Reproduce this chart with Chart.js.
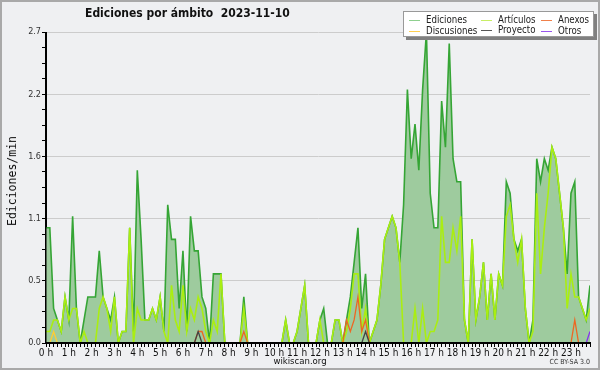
<!DOCTYPE html>
<html>
<head>
<meta charset="utf-8">
<script src="https://cdn.jsdelivr.net/npm/chart.js@4/dist/chart.umd.min.js"></script>
<style>
  body { margin: 0; background: #fff; }
  #marco { position: relative; width: 600px; height: 370px; background: #eff0f2; overflow: hidden;
           font-family: "DejaVu Sans Condensed", "DejaVu Sans", sans-serif; color: #111; }
  #marco canvas { position: absolute; left: 0; top: 0; }
  #borde { position: absolute; left: 0; top: 0; width: 600px; height: 370px; box-sizing: border-box;
           border: 2px solid #a9a9a9; pointer-events: none; }
  #titulo { position: absolute; left: 85px; top: 6px; font-weight: bold; font-size: 12px; white-space: pre; }
  #ytitulo { position: absolute; left: 12px; top: 181px; font-family: "DejaVu Sans Mono", monospace; font-size: 11.5px;
             transform: translate(-50%, -50%) rotate(-90deg); white-space: nowrap; }
  #leyenda { position: absolute; left: 403px; top: 11px; width: 189px; height: 24px; background: #fff;
             border: 1px solid #999; box-shadow: 3px 3px 0 #808080; }
  .item { position: absolute; font-size: 9.6px; line-height: 11px; white-space: nowrap; color: #222; }
  .item i { display: inline-block; width: 11px; height: 0; border-top: 1px solid; vertical-align: middle; margin-right: 6px; }
  #pie { position: absolute; left: 0; width: 600px; top: 355px; text-align: center; font-size: 9.5px; }
  #cc { position: absolute; right: 10px; top: 358px; font-size: 7px; color: #333; }
</style>
</head>
<body>
<div id="marco">
  <canvas id="grafico" width="600" height="370"></canvas>
  <div id="titulo">Ediciones por ámbito  2023-11-10</div>
  <div id="ytitulo">Ediciones/min</div>
  <div id="leyenda"></div>
  <div id="pie">wikiscan.org</div>
  <div id="cc">CC BY-SA 3.0</div>
  <div id="borde"></div>
</div>
<script>
// valores cada 10 minutos (ediciones/min), una fila por hora
const ediciones = [
  1.0, 1.0, 0.3, 0.2, 0.1, 0.4,
  0.2, 1.1, 0.3, 0.0, 0.2, 0.4,
  0.4, 0.4, 0.8, 0.4, 0.3, 0.2,
  0.4, 0.0, 0.1, 0.1, 1.0, 0.1,
  1.5, 0.9, 0.2, 0.2, 0.3, 0.2,
  0.4, 0.1, 1.2, 0.9, 0.9, 0.3,
  0.8, 0.1, 1.1, 0.8, 0.8, 0.4,
  0.3, 0.0, 0.6, 0.6, 0.6, 0.0,
  0.0, 0.0, 0.0, 0.0, 0.4, 0.0,
  0.0, 0.0, 0.0, 0.0, 0.0, 0.0,
  0.0, 0.0, 0.0, 0.2, 0.0, 0.0,
  0.1, 0.3, 0.5, 0.0, 0.0, 0.0,
  0.2, 0.3, 0.0, 0.0, 0.2, 0.2,
  0.0, 0.2, 0.4, 0.7, 1.0, 0.3,
  0.6, 0.0, 0.1, 0.2, 0.5, 0.9,
  1.0, 1.1, 1.0, 0.7, 1.2, 2.2,
  1.6, 1.9, 1.5, 2.2, 2.7, 1.3,
  1.0, 1.0, 2.1, 1.7, 2.6, 1.6,
  1.4, 1.4, 0.2, 0.0, 0.9, 0.2,
  0.4, 0.7, 0.2, 0.6, 0.2, 0.6,
  0.5, 1.4, 1.3, 0.9, 0.8, 0.9,
  0.3, 0.0, 0.2, 1.6, 1.4, 1.6,
  1.5, 1.7, 1.6, 1.3, 1.0, 0.6,
  1.3, 1.4, 0.4, 0.3, 0.2, 0.5
];
const articulos = [
  0.1, 0.1, 0.2, 0.2, 0.1, 0.4,
  0.2, 0.3, 0.3, 0.0, 0.1, 0.0,
  0.0, 0.0, 0.3, 0.4, 0.3, 0.1,
  0.4, 0.0, 0.1, 0.1, 1.0, 0.0,
  0.3, 0.2, 0.2, 0.2, 0.3, 0.2,
  0.4, 0.1, 0.0, 0.5, 0.2, 0.1,
  0.5, 0.1, 0.3, 0.2, 0.4, 0.3,
  0.1, 0.0, 0.2, 0.1, 0.6, 0.0,
  0.0, 0.0, 0.0, 0.0, 0.3, 0.0,
  0.0, 0.0, 0.0, 0.0, 0.0, 0.0,
  0.0, 0.0, 0.0, 0.2, 0.0, 0.0,
  0.1, 0.3, 0.5, 0.0, 0.0, 0.0,
  0.2, 0.0, 0.0, 0.0, 0.2, 0.2,
  0.0, 0.1, 0.3, 0.6, 0.6, 0.1,
  0.3, 0.0, 0.1, 0.2, 0.5, 0.9,
  1.0, 1.1, 1.0, 0.7, 0.0, 0.0,
  0.0, 0.3, 0.0, 0.3, 0.0, 0.1,
  0.1, 0.2, 1.1, 0.7, 0.7, 1.0,
  0.8, 1.1, 0.2, 0.0, 0.9, 0.2,
  0.4, 0.7, 0.2, 0.6, 0.2, 0.6,
  0.5, 1.1, 1.2, 0.9, 0.7, 0.9,
  0.3, 0.0, 0.1, 1.3, 0.6, 1.0,
  1.3, 1.7, 1.6, 1.3, 1.0, 0.3,
  0.6, 0.4, 0.4, 0.3, 0.2, 0.3
];
const discusiones = [
  0, 0, 0.1, 0, 0, 0,  0, 0, 0, 0, 0, 0,  0, 0, 0, 0, 0, 0,  0, 0, 0, 0, 0, 0,
  0, 0, 0, 0, 0, 0,  0, 0, 0, 0, 0, 0,  0, 0, 0, 0, 0, 0,  0, 0, 0, 0, 0, 0,
  0, 0, 0, 0, 0, 0,  0, 0, 0, 0, 0, 0,  0, 0, 0, 0, 0, 0,  0, 0, 0, 0, 0, 0,
  0, 0, 0, 0, 0, 0,  0, 0, 0, 0, 0, 0,  0, 0, 0, 0, 0, 0,  0, 0, 0, 0, 0, 0,
  0, 0, 0, 0, 0, 0,  0, 0, 0, 0, 0, 0,  0, 0, 0, 0, 0, 0,  0, 0, 0, 0, 0, 0,
  0, 0, 0, 0, 0, 0,  0, 0, 0, 0, 0, 0,  0, 0, 0, 0, 0, 0,  0, 0, 0, 0, 0, 0
];
const anexos = [
  0, 0, 0, 0, 0, 0,  0, 0, 0, 0, 0, 0,  0, 0, 0, 0, 0, 0,  0, 0, 0, 0, 0, 0,
  0, 0, 0, 0, 0, 0,  0, 0, 0, 0, 0, 0,  0, 0, 0, 0, 0.1, 0.1,  0, 0, 0, 0, 0, 0,
  0, 0, 0, 0, 0.1, 0,  0, 0, 0, 0, 0, 0,  0, 0, 0, 0, 0, 0,  0, 0, 0, 0, 0, 0,
  0, 0, 0, 0, 0, 0,  0, 0.2, 0.1, 0.2, 0.4, 0.1,  0.2, 0, 0, 0, 0, 0,  0, 0, 0, 0, 0, 0,
  0, 0, 0, 0, 0, 0,  0, 0, 0, 0, 0, 0,  0, 0, 0, 0, 0, 0,  0, 0, 0, 0, 0, 0,
  0, 0, 0, 0, 0, 0,  0, 0, 0, 0, 0, 0,  0, 0, 0, 0, 0, 0,  0, 0.2, 0, 0, 0, 0
];
const proyecto = [
  0, 0, 0, 0, 0, 0,  0, 0, 0, 0, 0, 0,  0, 0, 0, 0, 0, 0,  0, 0, 0, 0, 0, 0,
  0, 0, 0, 0, 0, 0,  0, 0, 0, 0, 0, 0,  0, 0, 0, 0, 0.1, 0,  0, 0, 0, 0, 0, 0,
  0, 0, 0, 0, 0, 0,  0, 0, 0, 0, 0, 0,  0, 0, 0, 0, 0, 0,  0, 0, 0, 0, 0, 0,
  0, 0, 0, 0, 0, 0,  0, 0, 0, 0, 0, 0,  0.1, 0, 0, 0, 0, 0,  0, 0, 0, 0, 0, 0,
  0, 0, 0, 0, 0, 0,  0, 0, 0, 0, 0, 0,  0, 0, 0, 0, 0, 0,  0, 0, 0, 0, 0, 0,
  0, 0, 0, 0, 0, 0,  0, 0, 0, 0, 0, 0,  0, 0, 0, 0, 0, 0,  0, 0, 0, 0, 0, 0
];
const otros = [
  0, 0, 0, 0, 0, 0,  0, 0, 0, 0, 0, 0,  0, 0, 0, 0, 0, 0,  0, 0, 0, 0, 0, 0,
  0, 0, 0, 0, 0, 0,  0, 0, 0, 0, 0, 0,  0, 0, 0, 0, 0, 0,  0, 0, 0, 0, 0, 0,
  0, 0, 0, 0, 0, 0,  0, 0, 0, 0, 0, 0,  0, 0, 0, 0, 0, 0,  0, 0, 0, 0, 0, 0,
  0, 0, 0, 0, 0, 0,  0, 0, 0, 0, 0, 0,  0, 0, 0, 0, 0, 0,  0, 0, 0, 0, 0, 0,
  0, 0, 0, 0, 0, 0,  0, 0, 0, 0, 0, 0,  0, 0, 0, 0, 0, 0,  0, 0, 0, 0, 0, 0,
  0, 0, 0, 0, 0, 0,  0, 0, 0, 0, 0, 0,  0, 0, 0, 0, 0, 0,  0, 0, 0, 0, 0, 0.1
];

const etiquetasHora = ["0 h", "1 h", "2 h", "3 h", "4 h", "5 h", "6 h", "7 h", "8 h", "9 h", "10 h", "11 h",
  "12 h", "13 h", "14 h", "15 h", "16 h", "17 h", "18 h", "19 h", "20 h", "21 h", "22 h", "23 h"];
const etiquetasY = ["0.0", "0.5", "1.1", "1.6", "2.2", "2.7"];
const maxY = 2.7;

const series = [
  { nombre: "Ediciones", datos: ediciones, color: "#35a535", leyenda: "#8fd08f" },
  { nombre: "Artículos", datos: articulos, color: "#aaee11", leyenda: "#c8ee66" },
  { nombre: "Anexos", datos: anexos, color: "#ee6622", leyenda: "#f0804a" },
  { nombre: "Discusiones", datos: discusiones, color: "#ffcc33", leyenda: "#ffd050" },
  { nombre: "Proyecto", datos: proyecto, color: "#444444", leyenda: "#555555" },
  { nombre: "Otros", datos: otros, color: "#8833ee", leyenda: "#9955ee" }
];

// ==== LEYENDA ====
const posLeyenda = [[5, 2], [77, 2], [137, 2], [5, 13], [77, 12], [137, 13]];
document.getElementById("leyenda").innerHTML = series.map((s, i) =>
  `<div class="item" style="left:${posLeyenda[i][0]}px;top:${posLeyenda[i][1]}px"><i style="border-color:${s.leyenda}"></i>${s.nombre}</div>`
).join("");

// redibuja los ejes por encima de las líneas que quedan en 0
const ejesEncima = {
  id: "ejesEncima",
  afterDatasetsDraw(chart) {
    const { ctx, chartArea } = chart;
    ctx.save();
    ctx.fillStyle = "#000";
    ctx.fillRect(chartArea.left - 1, chartArea.top, 1.5, chartArea.bottom - chartArea.top + 1);
    ctx.fillRect(chartArea.left - 1, chartArea.bottom - 1, chartArea.right - chartArea.left + 2, 2);
    ctx.restore();
  }
};

new Chart(document.getElementById("grafico"), {
  type: "line",
  data: {
    labels: ediciones.map((_, i) => i),
    datasets: series.map((s, i) => ({
      label: s.nombre,
      data: s.datos,
      borderColor: s.color,
      borderWidth: i < 2 ? 1.6 : 1.3,
      backgroundColor: "#9ecb9e",
      fill: i === 0 ? "origin" : false,
      pointRadius: 0,
      tension: 0,
      order: i === 0 ? 10 : 5 - i
    }))
  },
  options: {
    responsive: false,
    animation: false,
    events: [],
    layout: { padding: { left: 0, top: 32, right: 10, bottom: 0 } },
    plugins: { legend: { display: false }, tooltip: { enabled: false } },
    scales: {
      x: {
        type: "linear",
        min: 0,
        max: ediciones.length - 1,
        afterBuildTicks: s => { s.ticks = ediciones.map((_, i) => ({ value: i })); },
        afterFit: s => { s.height = 27; },
        border: { color: "#000" },
        grid: { drawOnChartArea: false, tickColor: "#000", tickLength: 4 },
        ticks: {
          autoSkip: false, maxRotation: 0, minRotation: 0, padding: 0,
          color: "#111", font: { family: "DejaVu Sans Condensed", size: 10 },
          callback: v => (v % 6 === 0 ? etiquetasHora[v / 6] : "")
        }
      },
      y: {
        min: 0,
        max: maxY,
        afterBuildTicks: s => {
          s.ticks = [];
          for (let k = 0; k <= 20; k++) s.ticks.push({ value: k * maxY / 20 });
        },
        afterFit: s => { s.width = 46; },
        border: { color: "#000" },
        grid: {
          color: c => (c.index % 4 === 0 ? "#cccccc" : "rgba(0,0,0,0)"),
          tickColor: "#000",
          tickLength: 4
        },
        ticks: {
          autoSkip: false, padding: 1,
          color: "#333", font: { family: "DejaVu Sans Condensed", size: 9 },
          callback: (v, i) => (i % 4 === 0 ? etiquetasY[i / 4] : "")
        }
      }
    }
  },
  plugins: [ejesEncima]
});
</script>
</body>
</html>
